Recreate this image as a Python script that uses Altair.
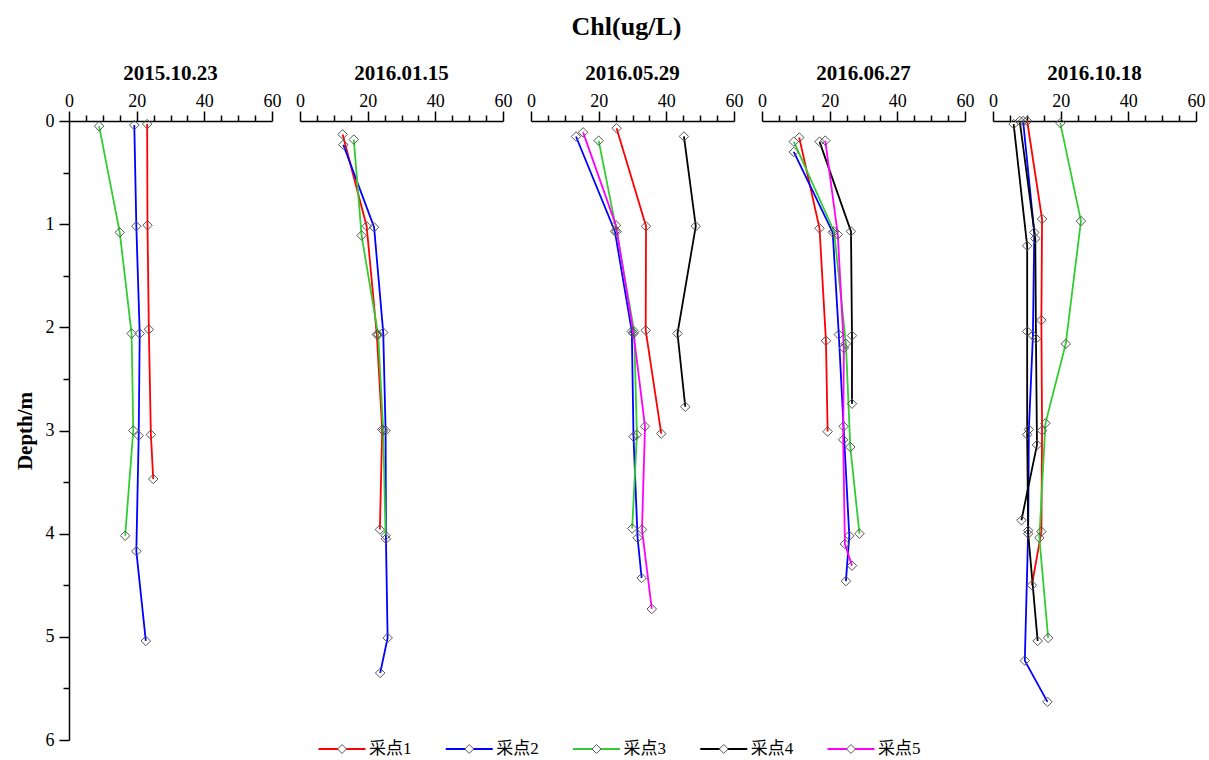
import altair as alt
import pandas as pd

dates = ["2015.10.23", "2016.01.15", "2016.05.29", "2016.06.27", "2016.10.18"]
series = ["采点1", "采点2", "采点3", "采点4", "采点5"]
colors = ["#FF0000", "#0000FF", "#33CC33", "#000000", "#FF00FF"]

# ---- 2015.10.23 ----
p1_s1_depth = [0.03, 1.01, 2.02, 3.04, 3.47]
p1_s1_chl = [23.1, 23.2, 23.6, 24.2, 24.9]
p1_s2_depth = [0.04, 1.02, 2.06, 3.05, 4.17, 5.04]
p1_s2_chl = [19.3, 19.9, 20.9, 20.6, 19.9, 22.7]
p1_s3_depth = [0.05, 1.08, 2.06, 3.00, 4.02]
p1_s3_chl = [8.9, 15.0, 18.5, 19.0, 16.6]

# ---- 2016.01.15 ----
p2_s1_depth = [0.13, 1.02, 2.07, 2.99, 3.96]
p2_s1_chl = [12.6, 19.7, 22.7, 24.3, 23.6]
p2_s2_depth = [0.23, 1.03, 2.05, 3.00, 4.05, 5.01, 5.35]
p2_s2_chl = [12.8, 21.9, 24.6, 25.3, 25.4, 25.9, 23.7]
p2_s3_depth = [0.18, 1.11, 2.07, 3.00, 4.02]
p2_s3_chl = [15.9, 18.2, 23.1, 24.6, 25.3]

# ---- 2016.05.29 ----
p3_s1_depth = [0.07, 1.02, 2.03, 3.03]
p3_s1_chl = [25.3, 34.0, 33.9, 38.5]
p3_s2_depth = [0.15, 1.07, 2.04, 3.06, 4.04, 4.43]
p3_s2_chl = [13.3, 24.8, 29.8, 30.3, 31.5, 32.7]
p3_s3_depth = [0.19, 1.07, 2.04, 3.04, 3.95]
p3_s3_chl = [20.0, 25.3, 30.5, 31.3, 29.9]
p3_s4_depth = [0.15, 1.02, 2.06, 2.77]
p3_s4_chl = [45.2, 48.7, 43.3, 45.6]
p3_s5_depth = [0.11, 1.01, 2.06, 2.96, 3.96, 4.73]
p3_s5_chl = [15.4, 25.1, 30.3, 33.7, 32.8, 35.7]

# ---- 2016.06.27 ----
p4_s1_depth = [0.16, 1.04, 2.13, 3.01]
p4_s1_chl = [11.0, 17.0, 18.9, 19.4]
p4_s2_depth = [0.30, 1.08, 2.07, 2.96, 4.02, 4.46]
p4_s2_chl = [9.4, 20.9, 22.7, 24.1, 25.8, 24.8]
p4_s3_depth = [0.20, 1.07, 2.16, 3.16, 4.00]
p4_s3_chl = [9.4, 21.3, 24.8, 26.1, 28.8]
p4_s4_depth = [0.20, 1.07, 2.08, 2.74]
p4_s4_chl = [17.0, 26.3, 26.6, 26.6]
p4_s5_depth = [0.19, 1.10, 2.20, 3.09, 4.10, 4.31]
p4_s5_chl = [18.7, 22.4, 24.2, 24.0, 24.5, 26.6]

# ---- 2016.10.18 ----
p5_s1_depth = [0.00, 0.95, 1.93, 3.00, 3.98, 4.50]
p5_s1_chl = [10.1, 14.5, 14.3, 14.5, 14.3, 11.5]
p5_s2_depth = [0.00, 1.08, 2.08, 2.99, 3.97, 5.23, 5.63]
p5_s2_chl = [8.9, 12.2, 11.8, 10.6, 10.4, 9.4, 16.1]
p5_s3_depth = [0.02, 0.97, 2.16, 2.93, 4.04, 5.01]
p5_s3_chl = [19.9, 26.0, 21.5, 15.5, 13.7, 16.3]
p5_s4a_depth = [0.03, 1.21, 2.04, 3.04, 4.00, 5.04]
p5_s4a_chl = [6.1, 10.1, 10.1, 10.1, 10.4, 13.2]
p5_s4b_depth = [0.00, 1.14, 2.11, 3.14, 3.87]
p5_s4b_chl = [7.9, 12.5, 12.7, 13.0, 8.4]

profiles = [
    (dates[0], series[0], "a", p1_s1_depth, p1_s1_chl),
    (dates[0], series[1], "a", p1_s2_depth, p1_s2_chl),
    (dates[0], series[2], "a", p1_s3_depth, p1_s3_chl),
    (dates[1], series[0], "a", p2_s1_depth, p2_s1_chl),
    (dates[1], series[1], "a", p2_s2_depth, p2_s2_chl),
    (dates[1], series[2], "a", p2_s3_depth, p2_s3_chl),
    (dates[2], series[0], "a", p3_s1_depth, p3_s1_chl),
    (dates[2], series[1], "a", p3_s2_depth, p3_s2_chl),
    (dates[2], series[2], "a", p3_s3_depth, p3_s3_chl),
    (dates[2], series[3], "a", p3_s4_depth, p3_s4_chl),
    (dates[2], series[4], "a", p3_s5_depth, p3_s5_chl),
    (dates[3], series[0], "a", p4_s1_depth, p4_s1_chl),
    (dates[3], series[1], "a", p4_s2_depth, p4_s2_chl),
    (dates[3], series[2], "a", p4_s3_depth, p4_s3_chl),
    (dates[3], series[3], "a", p4_s4_depth, p4_s4_chl),
    (dates[3], series[4], "a", p4_s5_depth, p4_s5_chl),
    (dates[4], series[0], "a", p5_s1_depth, p5_s1_chl),
    (dates[4], series[1], "a", p5_s2_depth, p5_s2_chl),
    (dates[4], series[2], "a", p5_s3_depth, p5_s3_chl),
    (dates[4], series[3], "a", p5_s4a_depth, p5_s4a_chl),
    (dates[4], series[3], "b", p5_s4b_depth, p5_s4b_chl),
]

rows = []
for date, s, part, dep, chl in profiles:
    for i, (d, c) in enumerate(zip(dep, chl)):
        rows.append({"date": date, "series": s, "trace": s + part, "idx": i, "depth": d, "chl": c})
df = pd.DataFrame(rows)

SERIF = "Liberation Serif"
color_scale = alt.Scale(domain=series, range=colors)

x_axis = alt.Axis(
    orient="top", title=None, grid=False,
    values=list(range(0, 61, 5)),
    labelExpr="datum.value % 20 == 0 ? format(datum.value, 'd') : ''",
    tickSize={"condition": {"test": "datum.value % 20 != 0", "value": 6}, "value": 10},
    labelFlush=False, labelOverlap=False, labelPadding=1,
)
y_axis = alt.Axis(
    orient="left", title="Depth/m", grid=False,
    values=[v / 2 for v in range(0, 13)],
    labelExpr="datum.value % 1 == 0 ? format(datum.value, 'd') : ''",
    tickSize={"condition": {"test": "datum.value % 1 != 0", "value": 6}, "value": 10},
    labelFlush=False, labelOverlap=False, labelPadding=5,
    titleFontSize=21, titleFont=SERIF, titleFontWeight="bold", titlePadding=10,
)


def panel(date, first):
    base = alt.Chart(df).transform_filter(alt.datum.date == date)
    x = alt.X("chl:Q", scale=alt.Scale(domain=[0, 60], nice=False, zero=True), axis=x_axis)
    y = alt.Y("depth:Q", scale=alt.Scale(domain=[0, 6], nice=False, reverse=True),
              axis=y_axis if first else None)
    lines = base.mark_line(strokeWidth=1.8).encode(
        x=x, y=y,
        color=alt.Color("series:N", scale=color_scale, legend=None),
        detail="trace:N",
        order="idx:Q",
    )
    pts = base.mark_point(shape="diamond", size=90, filled=False, color="#555555",
                          strokeWidth=1, opacity=1).encode(x=x, y=y)
    return alt.layer(lines, pts).properties(
        width=203, height=619,
        title=alt.TitleParams(date, fontSize=21, font=SERIF, fontWeight="bold", offset=8),
    )


panels = alt.hconcat(*[panel(d, i == 0) for i, d in enumerate(dates)], spacing=28, bounds="flush")

leg_df = pd.DataFrame({"series": series})
leg_x = alt.X("series:N", scale=alt.Scale(type="point", domain=series, range=[273, 782], padding=0), axis=None)
leg_base = alt.Chart(leg_df).encode(x=leg_x, y=alt.value(0))
leg_line = leg_base.mark_point(shape="M-1,0H1", size=2209, filled=False, strokeWidth=1.8, opacity=1).encode(
    color=alt.Color("series:N", scale=color_scale, legend=None)
)
leg_pt = leg_base.mark_point(shape="diamond", size=80, filled=True, fill="white", stroke="#555555",
                             strokeWidth=1, opacity=1)
leg_txt = leg_base.mark_text(align="left", baseline="middle", dx=27, fontSize=17,
                             font=SERIF + ", Noto Sans CJK SC", color="black").encode(text="series:N")
legend = alt.layer(leg_line, leg_pt, leg_txt).properties(width=900, height=1)

chart = alt.vconcat(panels, legend, spacing=-9).properties(
    title=alt.TitleParams("Chl(ug/L)", fontSize=26, font=SERIF, fontWeight="bold", anchor="middle",
                          offset=23, dx=17),
    padding={"left": 14, "top": 14, "right": 0, "bottom": 0},
).configure_view(stroke=None).configure_axis(
    labelFont=SERIF, labelFontSize=18, labelColor="black",
    domainColor="black", domainWidth=1.5, tickColor="black", tickWidth=1.5,
    titleColor="black",
)

chart.save("out.html", embed_options={"renderer": "svg", "actions": False})
